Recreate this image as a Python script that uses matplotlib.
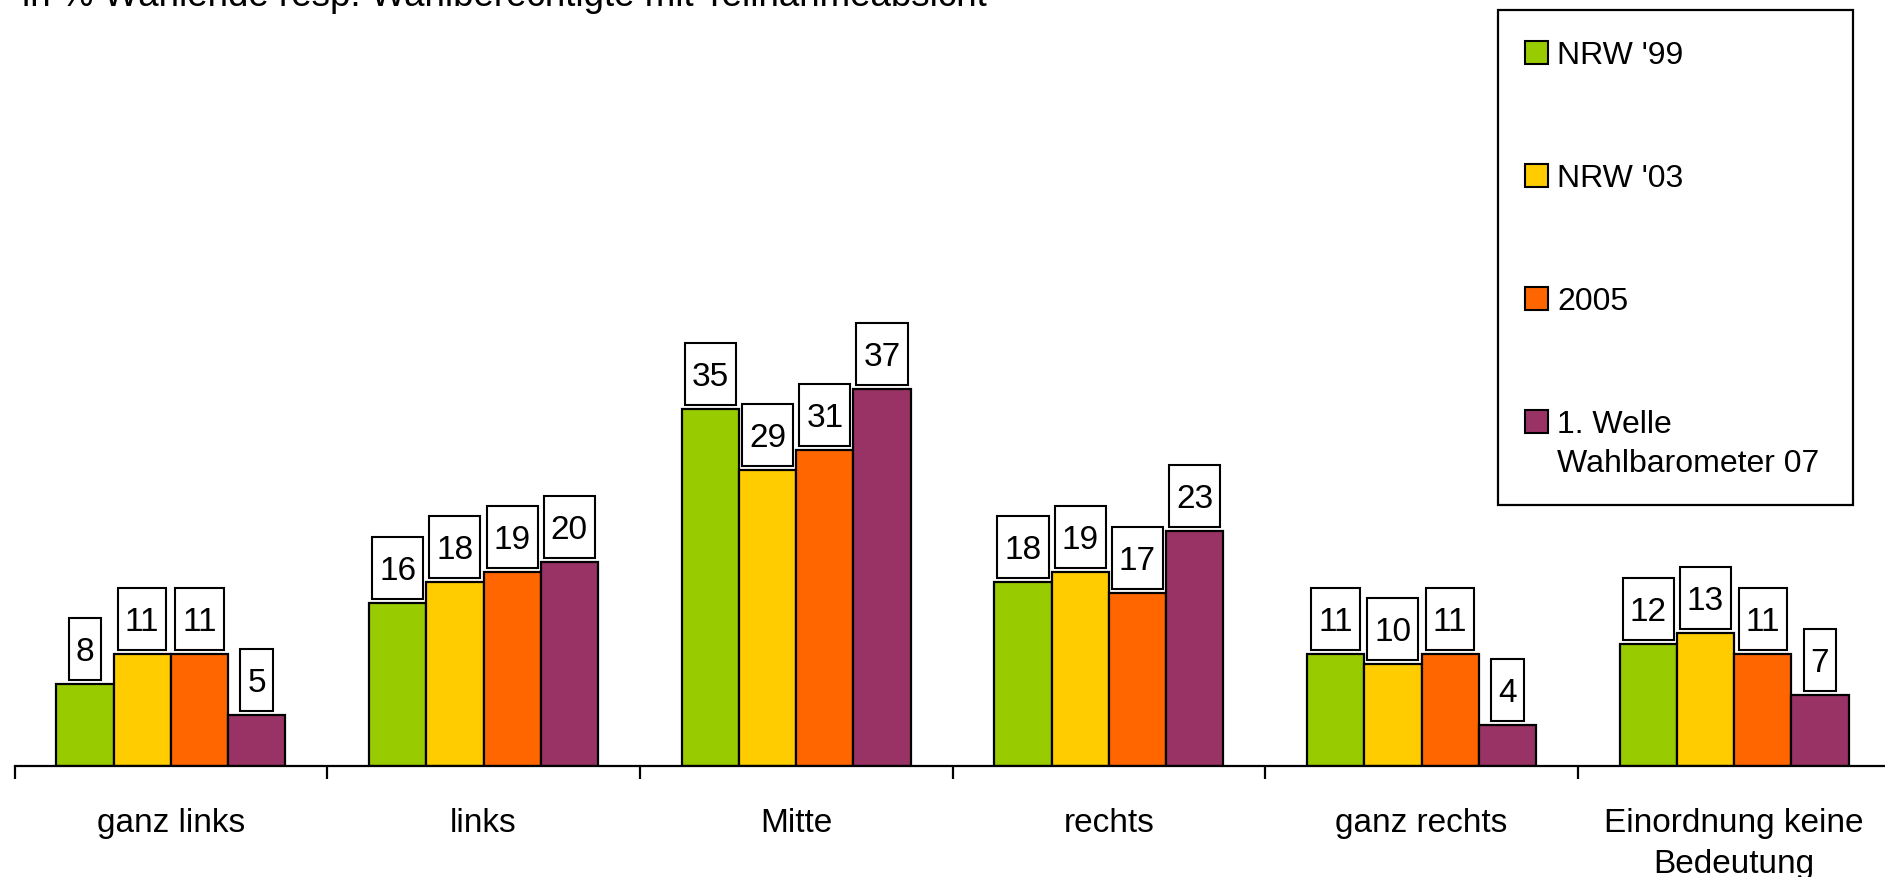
import matplotlib.pyplot as plt
from matplotlib.patches import Rectangle
from matplotlib.path import Path
import numpy as np

# data
categories = ['ganz links', 'links', 'Mitte', 'rechts', 'ganz rechts',
              'Einordnung keine\nBedeutung']
series = ["NRW '99", "NRW '03", '2005', '1. Welle\nWahlbarometer 07']
nrw99 = [8, 16, 35, 18, 11, 12]
nrw03 = [11, 18, 29, 19, 10, 13]
y2005 = [11, 19, 31, 17, 11, 11]
welle1 = [5, 20, 37, 23, 4, 7]
colors = ['#99CC00', '#FFCC00', '#FF6600', '#993366']
subtitle = 'in % Wählende resp. Wahlberechtigte mit Teilnahmeabsicht'

W, H = 1885, 877
plt.rcParams['font.family'] = 'Liberation Sans'


def labelbox(x0, y0, width, height, mutation_size):
    # square box around the value, taller than wide
    px = 0.21 * mutation_size
    pb = 0.36 * mutation_size
    pt = 0.57 * mutation_size
    x1, y1 = x0 + width + px, y0 + height + pt
    x0, y0 = x0 - px, y0 - pb
    return Path([(x0, y0), (x1, y0), (x1, y1), (x0, y1), (x0, y0)], closed=True)


fig = plt.figure(figsize=(W / 100, H / 100), dpi=100)
ax = fig.add_axes([14.5 / W, 1 - 766 / H, 1876 / W, 766 / H])

values = [nrw99, nrw03, y2005, welle1]
x = np.arange(len(categories)) + 0.5
bw = 0.183
for i, vals in enumerate(values):
    xs = x + (i - 1.5) * bw
    ax.bar(xs, vals, width=bw, color=colors[i], edgecolor='black',
           linewidth=1.6, zorder=2)
    for xi, v in zip(xs, vals):
        ax.annotate(str(v), (xi, v), xytext=(0, 11.5), textcoords='offset points',
                    ha='center', va='bottom', fontsize=24,
                    bbox=dict(boxstyle=labelbox, fc='white', ec='black', lw=1.5))

ax.set_xlim(0, 6)
ax.set_ylim(0, 75.1)
for s in ['top', 'right', 'left']:
    ax.spines[s].set_visible(False)
ax.spines['bottom'].set_linewidth(1.6)
ax.set_yticks([])
ax.set_xticks(np.arange(7))
ax.set_xticklabels([])
ax.tick_params(axis='x', which='major', length=9, width=1.6, direction='out')
ax.set_xticks(x, minor=True)
ax.set_xticklabels(categories, minor=True, fontsize=24, linespacing=1.42)
ax.tick_params(axis='x', which='minor', length=0, pad=30)

# subtitle, cut off at the top edge like the original
fig.text(22 / W, 1 - 6 / H, subtitle, fontsize=26.5, va='baseline', ha='left')


# legend box
def fx(px):
    return px / W


def fy(py):
    return 1 - py / H


fig.add_artist(Rectangle((fx(1498), fy(505)), fx(1853) - fx(1498), fy(10) - fy(505),
                         transform=fig.transFigure, fc='white', ec='black', lw=1.6))
baselines = [64, 187, 310, 433]
for name, c, yb in zip(series, colors, baselines):
    fig.add_artist(Rectangle((fx(1525), fy(yb)), 23 / W, 23 / H,
                             transform=fig.transFigure, fc=c, ec='black', lw=1.5))
    for k, line in enumerate(name.split('\n')):
        fig.text(fx(1557), fy(yb + 39 * k), line, fontsize=23, va='baseline',
                 ha='left')

fig.savefig('out.png', dpi=100)
